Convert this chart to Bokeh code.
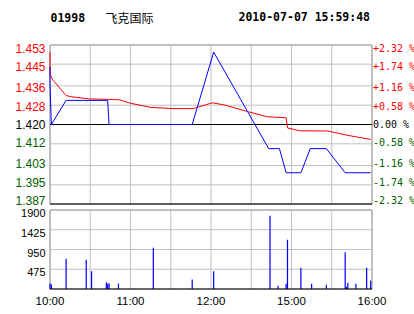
from bokeh.plotting import figure
from bokeh.models import ColumnDataSource, Range1d
from bokeh.core.properties import value
from bokeh.embed import file_html
from bokeh.resources import INLINE

# ---- data ----
code = "01998"
name = "飞克国际"
stamp = "2010-07-07 15:59:48"
base_price = 1.420
price_ticks = [1.387, 1.395, 1.403, 1.412, 1.420, 1.428, 1.436, 1.445, 1.453]
price_labels = ["1.387", "1.395", "1.403", "1.412", "1.420", "1.428", "1.436", "1.445", "1.453"]
pct_labels = ["-2.32 %", "-1.74 %", "-1.16 %", "-0.58 %", "0.00 %",
              "+0.58 %", "+1.16 %", "+1.74 %", "+2.32 %"]
time_ticks = [0, 60, 120, 180, 240]
time_labels = ["10:00", "11:00", "12:00", "15:00", "16:00"]
grid_minutes = [0, 30, 60, 90, 120, 150, 180, 210, 240]
vol_ticks = [475, 950, 1425, 1900]
vol_labels = ["475", "950", "1425", "1900"]

price_t = [0, 0, 1, 12, 43, 44, 106, 122, 163, 171, 176, 187, 194, 206, 220, 239]
price_v = [1.444, 1.437, 1.420, 1.430, 1.430, 1.420, 1.420, 1.450, 1.410, 1.410,
           1.400, 1.400, 1.410, 1.410, 1.400, 1.400]
avg_t = [0, 0, 2, 12, 16, 29, 43, 52, 60, 75, 91, 107, 121, 130, 147, 162, 176, 177, 186, 207, 222, 239]
avg_v = [1.450, 1.441, 1.4385, 1.432, 1.4315, 1.4306, 1.4304, 1.4302, 1.4288, 1.4271, 1.4266,
         1.4266, 1.4290, 1.4281, 1.4254, 1.4232, 1.4228, 1.4186, 1.4174, 1.4173, 1.4155, 1.4138]
vol_t = [0, 1, 12, 27, 31, 42, 43, 44, 51, 77, 106, 122, 164, 170, 176, 177, 187, 195,
         206, 220, 221, 222, 228, 236, 239]
vol_v = [135, 110, 729, 705, 424, 160, 120, 140, 135, 993, 231, 424, 1763, 80, 128, 1186,
         512, 128, 103, 881, 55, 152, 128, 512, 200]

RED = "#ff0000"
GREEN = "#006000"
BLUE = "#0000ff"
GRID = "#c0c0c0"
BORDER = "#a0a0a0"

lo = base_price * (1 - 0.0232)
hi = base_price * (1 + 0.0232)
vmax = 1900

# ---- layout (pixels): one canvas-wide frame holding both panels ----
W, H = 414, 314
L, R = 49.5, 371.5          # panel left / right
T, B = 44.5, 203.5          # price panel top / bottom
VT, VB = 209.5, 288.5       # volume panel top / bottom
xpp = (R - L) / 240.0
ypp = (hi - lo) / (B - T)
vpp = vmax / (VB - VT)

p = figure(width=W, height=H,
           x_range=(-L / xpp, 240 + (W - R) / xpp),
           y_range=(lo - (H - B) * ypp, hi + T * ypp),
           output_backend="svg", toolbar_location=None,
           x_axis_location=None, y_axis_location=None,
           min_border=0, min_border_left=0, min_border_right=0,
           min_border_top=0, min_border_bottom=0)
p.extra_y_ranges = {"vol": Range1d(-(H - VB) * vpp, vmax + VT * vpp)}
p.grid.visible = False
p.outline_line_color = None
p.background_fill_color = "white"
p.border_fill_color = "white"

n = len(grid_minutes)
# ---- price panel ----
p.segment(x0=grid_minutes, y0=[lo] * n, x1=grid_minutes, y1=[hi] * n, line_color=GRID)
p.segment(x0=[0] * len(price_ticks), y0=price_ticks, x1=[240] * len(price_ticks), y1=price_ticks,
          line_color=GRID)
p.quad(left=[0], right=[240], bottom=[lo], top=[hi], fill_color=None, line_color=BORDER)
p.segment(x0=[0, 0], y0=[base_price, lo], x1=[240, 240], y1=[base_price, lo], line_color="black")

p.line(avg_t, avg_v, line_color=RED, line_width=1)
p.line(price_t, price_v, line_color=BLUE, line_width=1)

colors = [RED if t > base_price + 1e-9 else (GREEN if t < base_price - 1e-9 else "black")
          for t in price_ticks]
mid = (len(price_ticks) - 1) / 2.0
offs = [(i - mid) * 0.86 for i in range(len(price_ticks))]   # labels sit slightly toward the centre
src = ColumnDataSource(dict(y=price_ticks, lab=price_labels, pct=pct_labels, c=colors, off=offs,
                            xl=[-4.5 / xpp] * len(price_ticks),
                            xr=[240 + 1 / xpp] * len(price_ticks)))
p.text(x="xl", y="y", text="lab", source=src, text_color="c", text_align="right",
       text_baseline="middle", y_offset="off", text_font=value("Liberation Sans"),
       text_font_size="12px")
p.text(x="xr", y="y", text="pct", source=src, text_color="c", text_align="left",
       text_baseline="middle", y_offset="off", text_font=value("DejaVu Sans Mono"),
       text_font_size="10px")

# header
hy = hi + (T - 16.5) * ypp
p.text(x=[(50 - L) / xpp, (238 - L) / xpp], y=[hy, hy], text=[code, stamp],
       text_color="black", text_align="left", text_baseline="middle",
       text_font=value("DejaVu Sans Mono"), text_font_style="bold", text_font_size="11.5px")
p.text(x=[(105 - L) / xpp], y=[hy], text=[name], text_color="black", text_align="left",
       text_baseline="middle", text_font=value("Noto Sans CJK SC"), text_font_size="12px")

# ---- volume panel ----
p.segment(x0=grid_minutes, y0=[0] * n, x1=grid_minutes, y1=[vmax] * n, line_color=GRID,
          y_range_name="vol")
p.segment(x0=[0] * len(vol_ticks), y0=vol_ticks, x1=[240] * len(vol_ticks), y1=vol_ticks,
          line_color=GRID, y_range_name="vol")
p.quad(left=[0], right=[240], bottom=[0], top=[vmax], fill_color=None, line_color=BORDER,
       y_range_name="vol")
p.vbar(x=vol_t, top=vol_v, width=0.9, bottom=0, fill_color=BLUE, line_color=None,
       y_range_name="vol")
p.segment(x0=[0], y0=[0], x1=[240], y1=[0], line_color="black", y_range_name="vol")

p.text(x=[-4.5 / xpp] * len(vol_ticks), y=vol_ticks, text=vol_labels, text_color="black",
       text_align="right", text_baseline="middle", y_offset=3, y_range_name="vol",
       text_font=value("Liberation Sans"), text_font_size="11px")
p.text(x=time_ticks, y=[0] * len(time_ticks), text=time_labels, text_color="black",
       text_align="center", text_baseline="middle", y_offset=12, y_range_name="vol",
       text_font=value("Liberation Sans"), text_font_size="11.5px")

open("out.html", "w").write(file_html(p, INLINE))
